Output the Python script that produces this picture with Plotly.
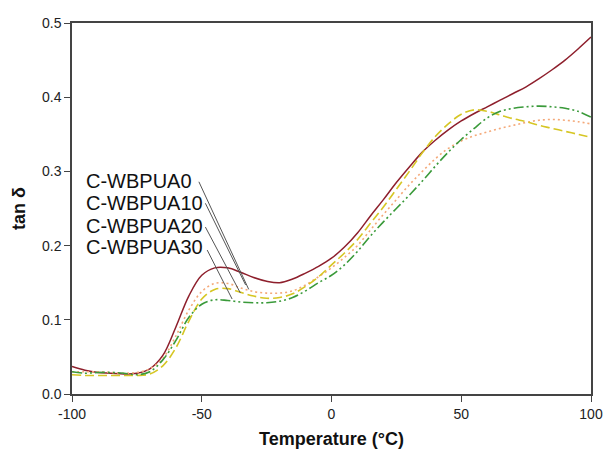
import plotly.graph_objects as go

temperature = [-100, -95, -90, -85, -80, -75, -70, -65, -60, -55, -50, -45, -40, -35, -30, -25, -20,
               -15, -10, -5, 0, 5, 10, 15, 20, 25, 30, 35, 40, 45, 50, 55, 60, 65, 70, 75, 80,
               85, 90, 95, 100]

tan_wbpua0 = [0.037, 0.032, 0.029, 0.028, 0.027, 0.028, 0.034, 0.052, 0.090, 0.132, 0.160, 0.170,
              0.170, 0.164, 0.157, 0.152, 0.150, 0.155, 0.163, 0.172, 0.183, 0.198, 0.217, 0.240,
              0.262, 0.285, 0.306, 0.326, 0.342, 0.356, 0.368, 0.378, 0.387, 0.396, 0.405, 0.414,
              0.425, 0.437, 0.450, 0.465, 0.481]

tan_wbpua10 = [0.030, 0.030, 0.030, 0.029, 0.028, 0.029, 0.034, 0.048, 0.078, 0.113, 0.138, 0.149,
               0.149, 0.143, 0.138, 0.136, 0.136, 0.139, 0.147, 0.158, 0.170, 0.184, 0.200, 0.221,
               0.242, 0.262, 0.282, 0.300, 0.317, 0.331, 0.341, 0.348, 0.353, 0.358, 0.362, 0.366,
               0.369, 0.370, 0.369, 0.367, 0.364]

tan_wbpua20 = [0.026, 0.025, 0.025, 0.025, 0.025, 0.025, 0.027, 0.038, 0.062, 0.098, 0.128, 0.141,
               0.142, 0.137, 0.132, 0.129, 0.130, 0.135, 0.145, 0.158, 0.174, 0.190, 0.208, 0.230,
               0.252, 0.276, 0.300, 0.325, 0.347, 0.364, 0.377, 0.383, 0.381, 0.376, 0.371, 0.367,
               0.362, 0.358, 0.354, 0.350, 0.346]

tan_wbpua30 = [0.030, 0.028, 0.029, 0.029, 0.028, 0.026, 0.030, 0.046, 0.072, 0.103, 0.121, 0.127,
               0.126, 0.124, 0.123, 0.123, 0.125, 0.130, 0.139, 0.150, 0.160, 0.174, 0.192, 0.213,
               0.232, 0.250, 0.268, 0.287, 0.307, 0.326, 0.343, 0.358, 0.372, 0.381, 0.385, 0.387,
               0.388, 0.387, 0.385, 0.381, 0.373]

series_names = ["C-WBPUA0", "C-WBPUA10", "C-WBPUA20", "C-WBPUA30"]
series_values = [tan_wbpua0, tan_wbpua10, tan_wbpua20, tan_wbpua30]
series_colors = ["#8E1F2C", "#F4A878", "#D6C624", "#3A9A3A"]
series_dash = ["solid", "2px,3px", "9px,4px", "10px,3px,2px,3px,2px,3px"]
series_width = [1.5, 1.6, 1.6, 1.6]

# label text positions (data coords) and leader-line endpoints
label_x = [-95.5, -95.5, -95.5, -95.5]
label_y = [0.2865, 0.2574, 0.2268, 0.1977]
leader_start_x = [-51.1, -48.6, -48.6, -47.9]
leader_start_y = [0.286, 0.257, 0.225, 0.194]
leader_end_x = [-31.9, -33.1, -35.1, -38.3]
leader_end_y = [0.141, 0.147, 0.136, 0.128]

x_ticks = [-100, -50, 0, 50, 100]
x_tick_labels = ["-100", "-50", "0", "50", "100"]
y_ticks = [0.0, 0.1, 0.2, 0.3, 0.4, 0.5]
y_tick_labels = ["0.0", "0.1", "0.2", "0.3", "0.4", "0.5"]

FONT = "Arial, Liberation Sans, sans-serif"

fig = go.Figure()
for name, vals, col, dash, w in zip(series_names, series_values, series_colors, series_dash, series_width):
    fig.add_trace(go.Scatter(
        x=temperature, y=vals, mode="lines", name=name,
        line=dict(color=col, dash=dash, width=w, shape="spline", smoothing=1.0),
        showlegend=False, hoverinfo="x+y+name"))

for name, lx, ly in zip(series_names, label_x, label_y):
    fig.add_annotation(x=lx, y=ly, xref="x", yref="y", text=name, showarrow=False,
                       xanchor="left", yanchor="middle",
                       font=dict(family=FONT, size=20, color="#111"))

for sx, sy, ex, ey in zip(leader_start_x, leader_start_y, leader_end_x, leader_end_y):
    fig.add_shape(type="line", xref="x", yref="y", x0=sx, y0=sy, x1=ex, y1=ey,
                  line=dict(color="#555", width=1))

axis_common = dict(
    showline=True, linecolor="#444", linewidth=1.5, mirror=True,
    ticks="outside", ticklen=6, tickwidth=1.2, tickcolor="#444",
    showgrid=False, zeroline=False, automargin=False,
    tickfont=dict(family=FONT, size=14, color="#222"),
)

fig.update_layout(
    width=603, height=457,
    margin=dict(l=72, r=12, t=23, b=63),
    paper_bgcolor="white", plot_bgcolor="white",
    xaxis=dict(range=[-100, 100], tickvals=x_ticks, ticktext=x_tick_labels,
               title=dict(text="Temperature (°C)", standoff=12,
                          font=dict(family=FONT, size=18, color="#111", weight="bold")),
               **axis_common),
    yaxis=dict(range=[0, 0.5], tickvals=y_ticks, ticktext=y_tick_labels,
               title=dict(text="tan δ", standoff=12,
                          font=dict(family=FONT, size=18, color="#111", weight="bold")),
               **axis_common),
)

fig.write_html("out.html", config={"displayModeBar": False},
               post_script="document.body.style.margin='0';document.body.style.overflow='hidden';")
